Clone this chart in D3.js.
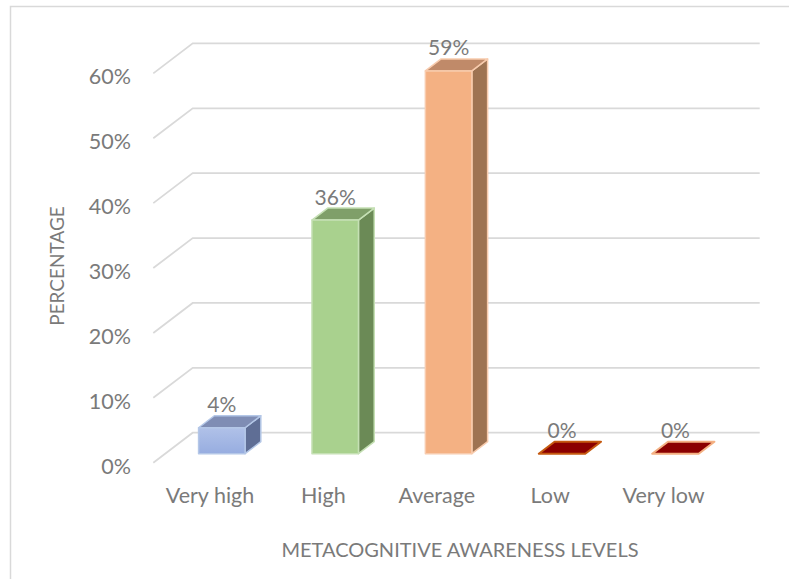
<!DOCTYPE html>
<html>
<head>
<meta charset="utf-8">
<script src="https://cdn.jsdelivr.net/npm/d3@7"></script>
<style>
  html, body { margin: 0; padding: 0; background: #ffffff; }
  svg { display: block; }
  text { font-family: Lato, "Open Sans", "DejaVu Sans", sans-serif; fill: #7a7a7a; }
</style>
</head>
<body>
<svg id="chart" width="789" height="579"></svg>
<script>
// Metacognitive awareness levels (share of respondents, %)
const categories = ["Very high", "High", "Average", "Low", "Very low"];
const values = [4, 36, 59, 0, 0];
const valueLabels = ["4%", "36%", "59%", "0%", "0%"];
const yTicks = [0, 10, 20, 30, 40, 50, 60];
const yTickLabels = ["0%", "10%", "20%", "30%", "40%", "50%", "60%"];

// Face colours per bar: front, side, top, outline
const frontColors = ["#97ade0", "#a9d18e", "#f4b183", "#8b0000", "#8b0000"];
const frontTopColors = ["#b0c1e8", "#a9d18e", "#f4b183", "#8b0000", "#8b0000"];
const sideColors = ["#5f6e95", "#6b8a56", "#9e7352", "#8b0000", "#8b0000"];
const topColors = ["#7f8db4", "#7f9f69", "#c08a69", "#8b0000", "#8b0000"];
const edgeColors = ["#b4c7e7", "#c5e0b4", "#f8cbad", "#c55a11", "#f4b183"];

const svg = d3.select("#chart");

// Oblique 3D projection: the floor recedes up and to the right
const depthX = 39.4, depthY = -30;
const barDepthStart = 0.3, barDepthEnd = 0.7;

const x = d3.scaleBand().domain(categories).range([153.3, 720.3]).padding(0);
const y = d3.scaleLinear().domain([0, 60]).range([462.7, 73.4]);
const barWidth = x.bandwidth() * 0.41;

// Chart frame
svg.append("rect")
  .attr("x", 10.5).attr("y", 6.5)
  .attr("width", 800).attr("height", 600)
  .attr("fill", "none").attr("stroke", "#d9d9d9").attr("stroke-width", 1.5);

// Gridlines: diagonal on the side wall, horizontal on the back wall
const grid = svg.append("g").attr("stroke", "#d9d9d9").attr("stroke-width", 1.75).attr("fill", "none");
const x0 = x.range()[0], x1 = x.range()[1];
yTicks.forEach(t => {
  const yf = y(t);
  grid.append("path")
    .attr("d", `M${x0},${yf} L${x0 + depthX},${yf + depthY} L${x1 + depthX},${yf + depthY}`);
});

// Value axis labels
svg.append("g").selectAll("text")
  .data(yTicks)
  .join("text")
  .attr("x", 131)
  .attr("y", d => y(d) + 3)
  .attr("text-anchor", "end")
  .attr("dominant-baseline", "central")
  .attr("font-size", 21.5)
  .text((d, i) => yTickLabels[i]);

// Category labels
svg.append("g").selectAll("text")
  .data(categories)
  .join("text")
  .attr("x", d => x(d) + x.bandwidth() / 2)
  .attr("y", 495)
  .attr("text-anchor", "middle")
  .attr("dominant-baseline", "central")
  .attr("font-size", 21.5)
  .text(d => d);

// Axis titles
svg.append("text")
  .attr("transform", "translate(56,266) rotate(-90)")
  .attr("text-anchor", "middle")
  .attr("dominant-baseline", "central")
  .attr("font-size", 19)
  .text("PERCENTAGE");

svg.append("text")
  .attr("x", 460).attr("y", 549)
  .attr("text-anchor", "middle")
  .attr("dominant-baseline", "central")
  .attr("font-size", 20)
  .text("METACOGNITIVE AWARENESS LEVELS");

// Front-face gradients
const defs = svg.append("defs");
categories.forEach((c, i) => {
  const g = defs.append("linearGradient")
    .attr("id", "front" + i)
    .attr("x1", 0).attr("y1", 0).attr("x2", 0).attr("y2", 1);
  g.append("stop").attr("offset", "0%").attr("stop-color", frontTopColors[i]);
  g.append("stop").attr("offset", "100%").attr("stop-color", frontColors[i]);
});

// 3D columns
const bars = svg.append("g");
categories.forEach((c, i) => {
  const v = values[i];
  const fx = x(c) + (x.bandwidth() - barWidth) / 2 + depthX * barDepthStart;
  const fBottom = y(0) + depthY * barDepthStart;
  const fTop = y(v) + depthY * barDepthStart;
  const dx = depthX * (barDepthEnd - barDepthStart);
  const dy = depthY * (barDepthEnd - barDepthStart);
  const g = bars.append("g")
    .attr("stroke", edgeColors[i])
    .attr("stroke-width", 1.5)
    .attr("stroke-linejoin", "round");

  if (v > 0) {
    // right side face
    g.append("path")
      .attr("fill", sideColors[i])
      .attr("d", `M${fx + barWidth},${fBottom} L${fx + barWidth + dx},${fBottom + dy} L${fx + barWidth + dx},${fTop + dy} L${fx + barWidth},${fTop} Z`);
    // top face
    g.append("path")
      .attr("fill", topColors[i])
      .attr("d", `M${fx},${fTop} L${fx + dx},${fTop + dy} L${fx + barWidth + dx},${fTop + dy} L${fx + barWidth},${fTop} Z`);
    // front face
    g.append("rect")
      .attr("x", fx).attr("y", fTop)
      .attr("width", barWidth).attr("height", fBottom - fTop)
      .attr("fill", `url(#front${i})`);
  } else {
    // zero-height column collapses to its top face
    g.append("path")
      .attr("fill", topColors[i])
      .attr("stroke-width", 2)
      .attr("d", `M${fx},${fTop} L${fx + dx},${fTop + dy} L${fx + barWidth + dx},${fTop + dy} L${fx + barWidth},${fTop} Z`);
  }

  // data label
  svg.append("text")
    .attr("x", fx + barWidth / 2)
    .attr("y", fTop - 24)
    .attr("text-anchor", "middle")
    .attr("dominant-baseline", "central")
    .attr("font-size", 21)
    .text(valueLabels[i]);
});
</script>
</body>
</html>
